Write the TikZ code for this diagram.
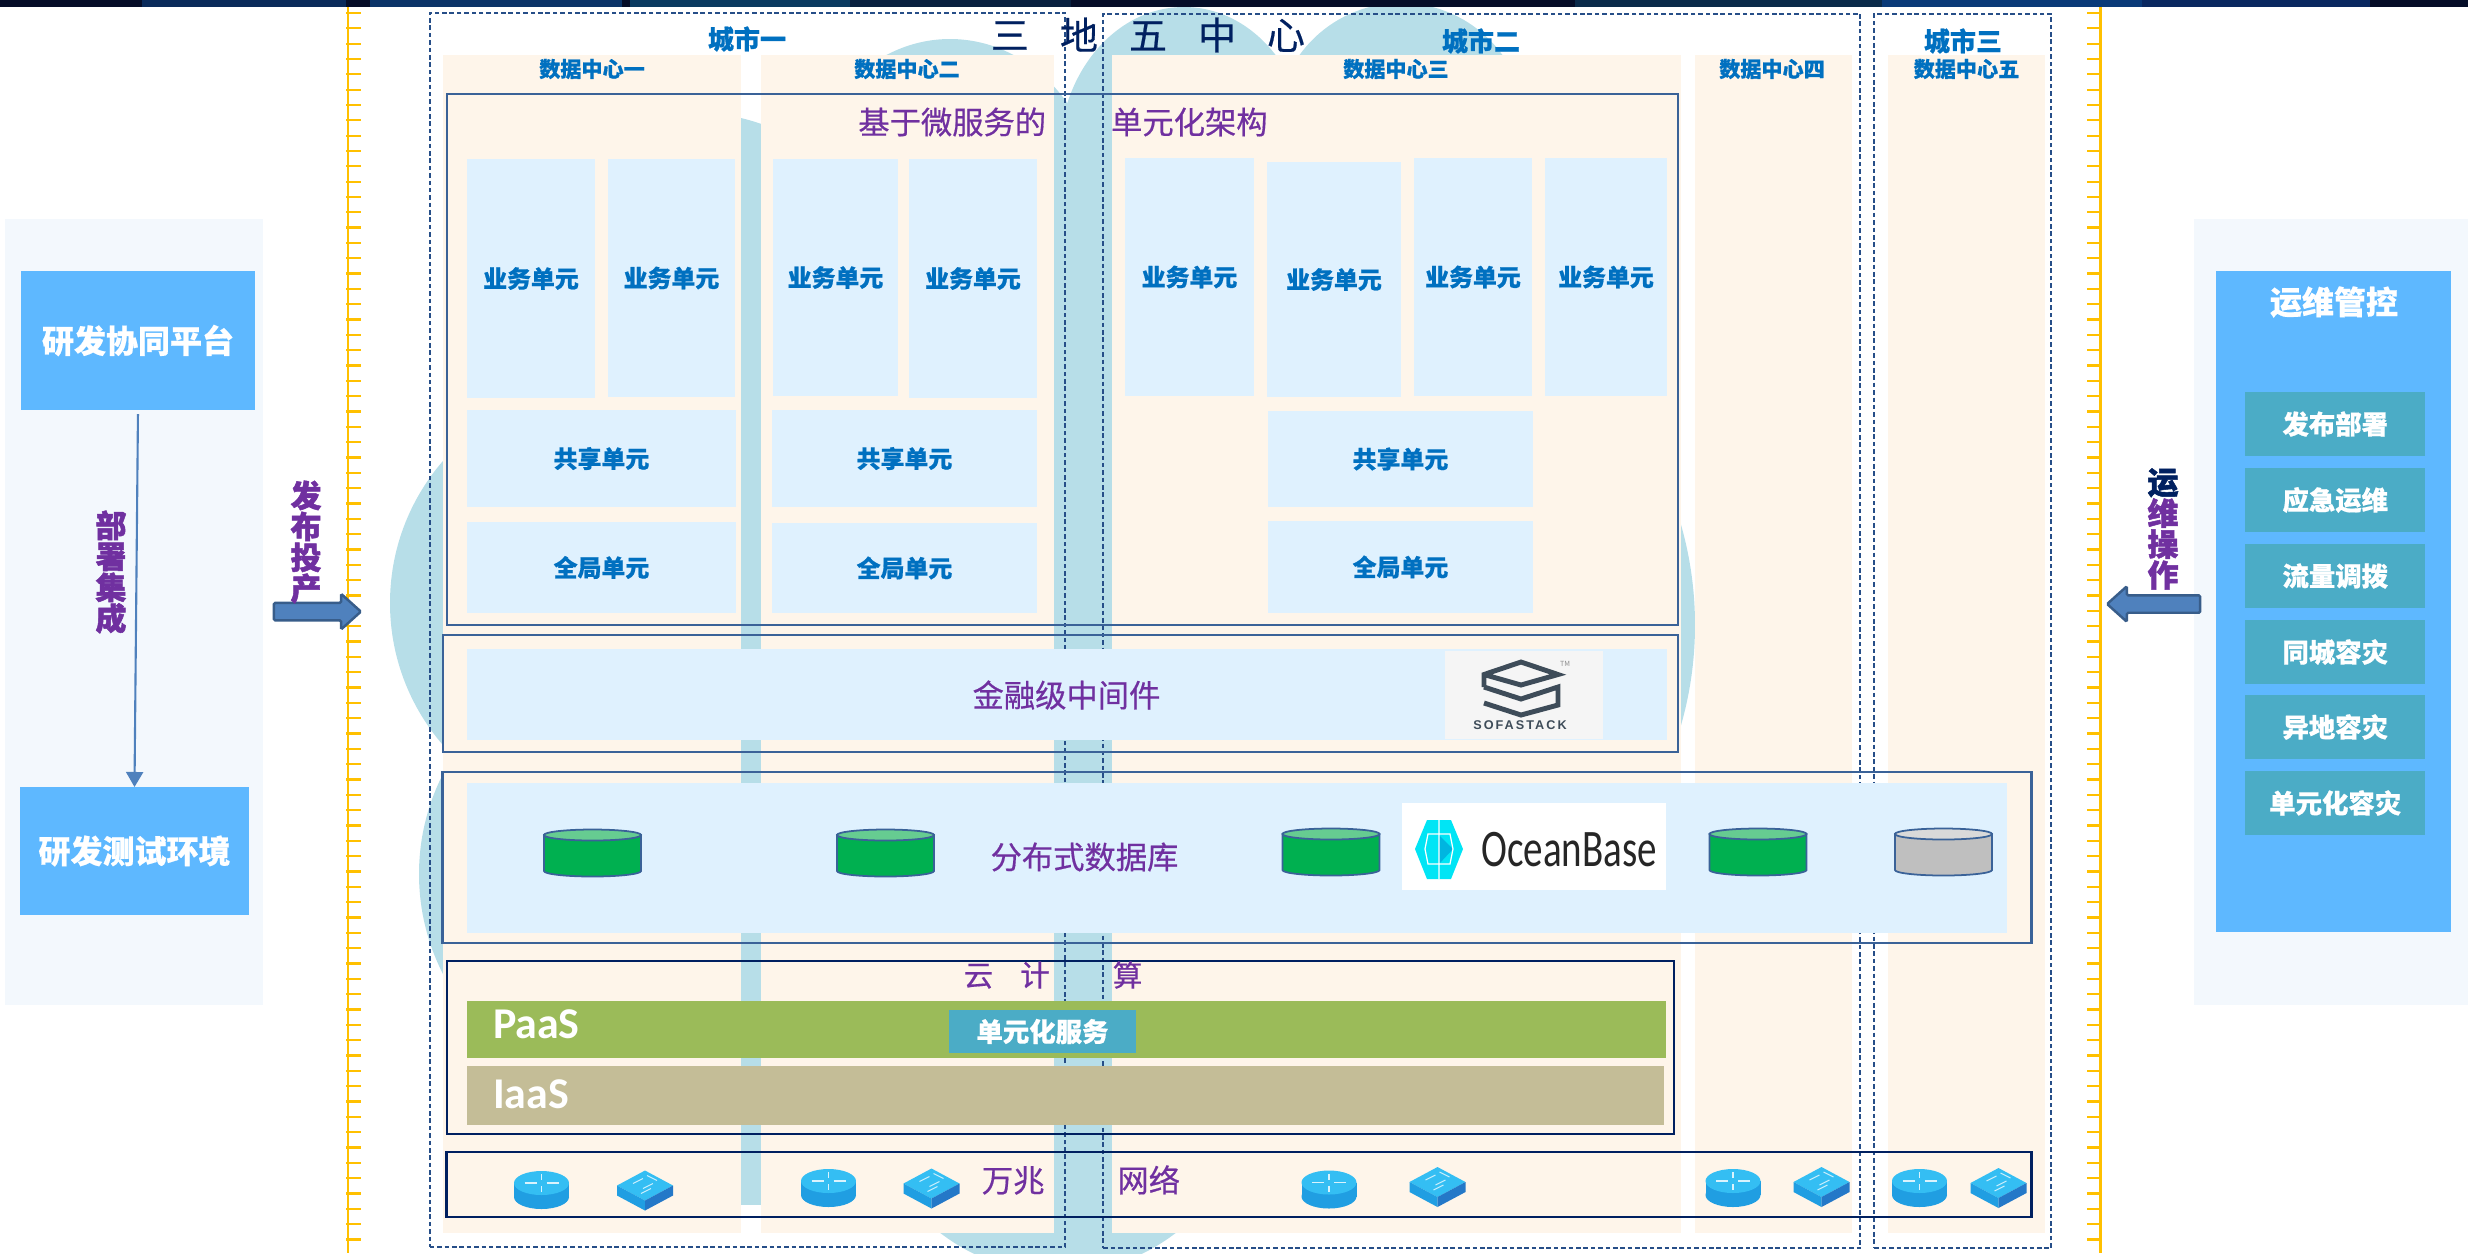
\documentclass[tikz,border=0pt]{standalone}
\usepackage{fontspec}
\usepackage{graphicx}
\setmainfont[BoldFeatures={FakeBold=0.6}]{Noto Sans CJK SC}
\newfontfamily\titlefont[FakeBold=0.5]{Noto Sans CJK SC}
\newfontfamily\heavyfont[BoldFeatures={FakeBold=1.6}]{Noto Sans CJK SC}
\newfontfamily\latinfont{Carlito}
\newfontfamily\sofafont[LetterSpace=16]{Liberation Sans}
\usepackage{tikz}
\usetikzlibrary{shapes.geometric, shapes.arrows, arrows.meta, positioning}
\usepackage{xcolor}
\definecolor{bandnavy}{RGB}{5, 13, 40}
\definecolor{blobblue}{RGB}{183, 222, 232}
\definecolor{dccream}{RGB}{254, 245, 234}
\definecolor{unitblue}{RGB}{223, 241, 254}
\definecolor{paneltint}{RGB}{243, 248, 253}
\definecolor{boxblue}{RGB}{94, 184, 255}
\definecolor{tealbtn}{RGB}{75, 172, 198}
\definecolor{labelblue}{RGB}{0, 112, 192}
\definecolor{titlepurple}{RGB}{112, 48, 160}
\definecolor{titlenavy}{RGB}{0, 32, 96}
\definecolor{framesteel}{RGB}{58, 98, 152}
\definecolor{citydash}{RGB}{38, 78, 136}
\definecolor{rulergold}{RGB}{255, 192, 0}
\definecolor{paasgreen}{RGB}{155, 187, 89}
\definecolor{iaastan}{RGB}{196, 189, 151}
\definecolor{arrowblue}{RGB}{79, 129, 189}
\definecolor{arrowedge}{RGB}{56, 93, 138}
\definecolor{sofaslate}{RGB}{62, 76, 89}
\definecolor{dbgreen}{RGB}{0, 176, 80}
\definecolor{dbgreentop}{RGB}{102, 204, 145}
\definecolor{dbgray}{RGB}{191, 191, 191}
\definecolor{dbgraytop}{RGB}{217, 217, 217}
\definecolor{netlight}{RGB}{52, 190, 243}
\definecolor{netmid}{RGB}{32, 158, 226}
\definecolor{netdark}{RGB}{36, 120, 200}
\definecolor{obcyan}{RGB}{0, 229, 245}
\definecolor{obdeep}{RGB}{0, 181, 224}

\lineskiplimit=-8pt

\begin{document}
\begin{tikzpicture}[
    x=0.01cm, y=-0.01cm,
    every node/.style={inner sep=0pt, outer sep=0pt},
    dcbox/.style={rectangle, fill=dccream, minimum height=11.78cm},
    dclabel/.style={font=\fontsize{6}{7}\selectfont\bfseries, text=labelblue},
    citybox/.style={rectangle, draw=citydash, dash pattern=on 1.3pt off 0.8pt, line width=0.55pt, minimum height=12.34cm},
    citylabel/.style={font=\fontsize{7.4}{8}\selectfont\bfseries, text=labelblue},
    frame/.style={rectangle, draw=framesteel, line width=0.6pt},
    navyframe/.style={rectangle, draw=titlenavy, line width=0.6pt},
    unitbox/.style={rectangle, fill=unitblue, text=labelblue, font=\fontsize{6.8}{8}\selectfont\bfseries},
    sectitle/.style={text=titlepurple, font=\fontsize{8.9}{10}\selectfont\titlefont},
    whitebox/.style={rectangle, fill=boxblue, text=white, font=\fontsize{9.1}{10}\selectfont\bfseries},
    tealbox/.style={rectangle, fill=tealbtn, text=white, font=\fontsize{7.5}{9}\selectfont\bfseries, minimum width=1.795cm, minimum height=0.64cm},
    sidelabel/.style={align=center, text=titlepurple, font=\fontsize{8.8}{8.8}\selectfont\heavyfont\bfseries},
    blockarrow/.style={single arrow, draw=arrowedge, fill=arrowblue, line width=0.7pt, rounded corners=0.4pt, text height=0.15cm, text depth=0pt, single arrow head extend=0.09cm, single arrow tip angle=84},
    rulerline/.style={rulergold, line width=0.85pt},
    rulertick/.style={rulergold, line width=0.65pt},
    pics/dbicon/.style 2 args={code={
        \filldraw[fill=#1, draw=framesteel, line width=0.5pt] (-48.5,-18) -- (-48.5,18) arc[start angle=180, end angle=0, x radius=48.5, y radius=5.5] -- (48.5,-18) -- cycle;
        \filldraw[fill=#2, draw=framesteel, line width=0.5pt] (0,-18) ellipse[x radius=48.5, y radius=5.5];
    }},
    routericon/.pic={
        \fill[netmid] (0,7) ellipse[x radius=27.5, y radius=12];
        \fill[netmid] (-27.5,-7) rectangle (27.5,7);
        \fill[netlight] (0,-7) ellipse[x radius=27.5, y radius=12];
        \draw[white!85!cyan, line width=0.3pt] (-17,-7) -- (-5,-7) (5,-7) -- (17,-7) (0,-16) -- (0,-10) (0,-4) -- (0,2);
    },
    switchicon/.pic={
        \fill[netlight] (-28,-5) -- (0,-20) -- (28,-5) -- (0,10) -- cycle;
        \fill[netmid] (-28,-5) -- (0,10) -- (0,20) -- (-28,5) -- cycle;
        \fill[netdark] (0,10) -- (28,-5) -- (28,5) -- (0,20) -- cycle;
        \draw[white!80!cyan, line width=0.3pt] (-12,-7) -- (-2,-12) (-2,-2) -- (8,-7) (-4,3) -- (6,-2) (2,-15) -- (12,-10);
    },
]
\useasboundingbox (0,0) rectangle (2468,1253);

% Background cloud
\fill[blobblue] (607,603) circle[radius=217];
\fill[blobblue] (639,874) circle[radius=220];
\fill[blobblue] (690,330) circle[radius=218];
\fill[blobblue] (950,209) ellipse[x radius=150, y radius=170];
\fill[blobblue] (1184,157) ellipse[x radius=125, y radius=150];
\fill[blobblue] (1401,128) circle[radius=125];
\fill[blobblue] (1331,625) circle[radius=364];
\begin{scope}
    \clip (0,0) rectangle (2468,1253);
    \fill[blobblue] (1058,1080) circle[radius=193];
\end{scope}
\fill[blobblue] (560,130) rectangle (1600,1205);

% Top band
\fill[bandnavy] (0,0) rectangle (2468,7);
\foreach \xa/\xb/\bandcol in {142/346/10 42 90, 370/622/11 52 104, 630/850/10 58 96, 850/1071/8 32 63, 1575/1882/10 42 74, 1882/2142/10 58 120, 2142/2370/10 40 96} {
    \definecolor{bandpatch}{RGB}{\bandcol}
    \fill[bandpatch] (\xa,0) rectangle (\xb,7);
}

% Rulers
\draw[rulerline] (348,7) -- (348,1253);
\draw[rulerline] (2100,7) -- (2100,1253);
\foreach \k in {0,...,80} {
    \draw[rulertick] (346,{13+15.33*\k}) -- (361,{13+15.33*\k});
    \draw[rulertick] (2087,{13+15.33*\k}) -- (2102,{13+15.33*\k});
}

% Data centres
\node[dcbox, minimum width=2.98cm] (dc1) at (592,644) {};
\node[dcbox, minimum width=2.93cm] (dc2) at (907.5,644) {};
\node[dcbox, minimum width=5.69cm] (dc3) at (1396.5,644) {};
\node[dcbox, minimum width=1.57cm] (dc4) at (1773.5,644) {};
\node[dcbox, minimum width=1.57cm] (dc5) at (1966.5,644) {};
\node[dclabel] (dc1name) at (592,69) {数据中心一};
\node[dclabel] (dc2name) at (907,69) {数据中心二};
\node[dclabel] (dc3name) at (1396,69) {数据中心三};
\node[dclabel] (dc4name) at (1772,69) {数据中心四};
\node[dclabel] (dc5name) at (1966.5,69) {数据中心五};

% Cities
\node[citybox, minimum width=6.35cm] (city1) at (747.5,630) {};
\node[citybox, minimum width=7.564cm] (city2) at (1481.8,631) {};
\node[citybox, minimum width=1.765cm] (city3) at (1962.75,631) {};
\node[citylabel] (city1name) at (747,39) {城市一};
\node[citylabel] (city2name) at (1481,41) {城市二};
\node[citylabel] (city3name) at (1963,41) {城市三};

\node[text=titlenavy, font=\fontsize{10.8}{12}\selectfont\titlefont] (maintitle) at (1148,35) {三\hspace{0.31cm}地\hspace{0.31cm}五\hspace{0.31cm}中\hspace{0.31cm}心};

% Microservice units
\node[frame, minimum width=12.306cm, minimum height=5.305cm] (msframe) at (1062.3,359.25) {};
\node[sectitle] (mstitle) at (1063,122) {基于微服务的\hspace{0.65cm}单元化架构};
\node[unitbox, minimum width=1.28cm, minimum height=2.39cm] (biz1) at (531,278.5) {业务单元};
\node[unitbox, minimum width=1.27cm, minimum height=2.38cm] (biz2) at (671.5,278) {业务单元};
\node[unitbox, minimum width=1.25cm, minimum height=2.37cm] (biz3) at (835.5,277.5) {业务单元};
\node[unitbox, minimum width=1.28cm, minimum height=2.39cm] (biz4) at (973,278.5) {业务单元};
\node[unitbox, minimum width=1.29cm, minimum height=2.375cm] (biz5) at (1189.5,277) {业务单元};
\node[unitbox, minimum width=1.34cm, minimum height=2.35cm] (biz6) at (1334,279.5) {业务单元};
\node[unitbox, minimum width=1.18cm, minimum height=2.375cm] (biz7) at (1473,277) {业务单元};
\node[unitbox, minimum width=1.22cm, minimum height=2.375cm] (biz8) at (1606,277) {业务单元};
\node[unitbox, minimum width=2.69cm, minimum height=0.97cm] (share1) at (601.5,458.5) {共享单元};
\node[unitbox, minimum width=2.65cm, minimum height=0.97cm] (share2) at (904.5,458.5) {共享单元};
\node[unitbox, minimum width=2.65cm, minimum height=0.96cm] (share3) at (1400.5,459) {共享单元};
\node[unitbox, minimum width=2.69cm, minimum height=0.91cm] (global1) at (601.5,567.5) {全局单元};
\node[unitbox, minimum width=2.65cm, minimum height=0.90cm] (global2) at (904.5,568) {全局单元};
\node[unitbox, minimum width=2.65cm, minimum height=0.92cm] (global3) at (1400.5,567) {全局单元};

% Middleware
\node[frame, minimum width=12.346cm, minimum height=1.17cm] (mwframe) at (1060.3,693.5) {};
\node[unitbox, minimum width=12cm, minimum height=0.905cm] (mwband) at (1067,694.75) {};
\node[sectitle] (mwtitle) at (1066.5,695) {金融级中间件};
\node[rectangle, fill=black!4, minimum width=1.58cm, minimum height=0.88cm] (sofalogo) at (1524,695) {};
\draw[sofaslate, line width=1.4pt, line join=miter]
    (1484,687) -- (1484,674.5) -- (1521,662) -- (1558,674.5) -- (1521,685) -- (1484,674.5)
    (1484,687) -- (1521,699) -- (1558,687) -- (1558,705) -- (1521,715) -- (1484,703);
\node[text=black!45, font=\fontsize{2}{2}\selectfont] (sofatm) at (1565,664) {TM};
\node[text=sofaslate, font=\fontsize{3.6}{4}\selectfont\sofafont\bfseries] (sofaname) at (1520,725) {SOFASTACK};

% Database
\node[frame, minimum width=15.88cm, minimum height=1.706cm] (dbframe) at (1237,857.3) {};
\node[unitbox, minimum width=15.4cm, minimum height=1.5cm] (dbband) at (1237,858) {};
\node[sectitle] (dbtitle) at (1084.5,857) {分布式数据库};
\node[rectangle, fill=white, minimum width=2.64cm, minimum height=0.87cm] (oblogo) at (1534,846.5) {};
\fill[obcyan] (1427,820) -- (1451,820) -- (1463,849) -- (1451,879) -- (1427,879) -- (1415,849) -- cycle;
\fill[obdeep] (1439,835) -- (1453,849) -- (1439,864) -- cycle;
\draw[white, line width=0.35pt] (1428,834) -- (1450,834) -- (1453,849) -- (1450,864) -- (1428,864) -- (1425,849) -- cycle (1439,820) -- (1439,879);
\node[text=black!85, font=\fontsize{15}{16}\selectfont\latinfont] (obname) at (1569,850) {\scalebox{0.74}[1]{OceanBase}};
\pic (db1) at (592.5,853) {dbicon={dbgreen}{dbgreentop}};
\pic (db2) at (885.5,853) {dbicon={dbgreen}{dbgreentop}};
\pic (db3) at (1331,852) {dbicon={dbgreen}{dbgreentop}};
\pic (db4) at (1758,852) {dbicon={dbgreen}{dbgreentop}};
\pic (db5) at (1943.5,852) {dbicon={dbgray}{dbgraytop}};

% Cloud
\node[navyframe, minimum width=12.27cm, minimum height=1.73cm] (cloudframe) at (1060.5,1047.5) {};
\node[sectitle, font=\fontsize{8.4}{10}\selectfont\titlefont] (cloudtitle) at (1053,975) {云\hspace{0.27cm}计\hspace{0.63cm}算};
\node[rectangle, fill=paasgreen, minimum width=11.99cm, minimum height=0.574cm] (paas) at (1066.5,1029.7) {};
\node[rectangle, fill=iaastan, minimum width=11.97cm, minimum height=0.59cm] (iaas) at (1065.5,1095.5) {};
\node[text=white, anchor=west, font=\fontsize{12.5}{14}\selectfont\latinfont\bfseries] (paasname) at (493,1024) {PaaS};
\node[text=white, anchor=west, font=\fontsize{12.5}{14}\selectfont\latinfont\bfseries] (iaasname) at (493,1094) {IaaS};
\node[tealbox, minimum width=1.87cm, minimum height=0.43cm] (unitsvc) at (1042.5,1031.5) {单元化服务};

% Network
\node[navyframe, minimum width=15.84cm, minimum height=0.647cm] (netframe) at (1239,1184.35) {};
\node[sectitle] (nettitle) at (1081,1180) {万兆\hspace{0.73cm}网络};
\foreach \px/\py [count=\n] in {541.5/1190, 828.5/1188, 1329/1189.5, 1733/1188, 1919.5/1188}
    \pic (router\n) at (\px,\py) {routericon};
\foreach \px/\py [count=\n] in {645/1190.5, 931.5/1188.5, 1437.5/1187, 1821.5/1187, 1998.5/1188}
    \pic (switch\n) at (\px,\py) {switchicon};

% Development panel
\node[rectangle, fill=paneltint, minimum width=2.58cm, minimum height=7.86cm] (devpanel) at (134,612) {};
\node[whitebox, minimum width=2.34cm, minimum height=1.39cm] (devplat) at (138,340.5) {研发协同平台};
\node[whitebox, minimum width=2.29cm, minimum height=1.28cm] (devtest) at (134.5,851) {研发测试环境};
\draw[-{Triangle[length=1.5mm, width=1.7mm]}, arrowblue, line width=0.6pt, shorten <=0.04cm] (devplat.south) -- (devtest.north);
\node[sidelabel] (deploy) at (111,572) {部\\署\\集\\成};

% Operations panel
\node[rectangle, fill=paneltint, minimum width=2.74cm, minimum height=7.86cm] (opspanel) at (2331,612) {};
\node[whitebox, minimum width=2.346cm, minimum height=6.61cm] (opsbox) at (2333.7,601.5) {};
\node[text=white, font=\fontsize{9.1}{10}\selectfont\bfseries] (opstitle) at (2334,302) {运维管控};
\node[tealbox] (ops1) at (2335.25,424) {发布部署};
\node[tealbox] (ops2) at (2335.25,500) {应急运维};
\node[tealbox] (ops3) at (2335.25,576) {流量调拨};
\node[tealbox] (ops4) at (2335.25,652) {同城容灾};
\node[tealbox] (ops5) at (2335.25,727) {异地容灾};
\node[tealbox] (ops6) at (2335.25,803) {单元化容灾};

% Block arrows
\node[blockarrow, minimum height=0.87cm] (release) at (312.5,611.6) {};
\node[sidelabel] (releasename) at (306,542) {发\\布\\投\\产};
\node[blockarrow, minimum height=0.93cm, shape border rotate=180] (opsarrow) at (2158.5,604) {};
\node[sidelabel] (opsname) at (2163,529) {\textcolor{titlenavy}{运}\\维\\操\\作};

\end{tikzpicture}
\end{document}
